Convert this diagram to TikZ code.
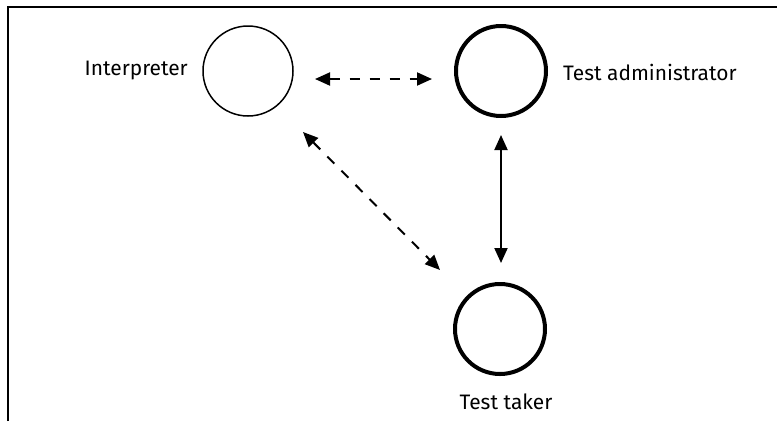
\documentclass[tikz,border=0pt]{standalone}
\usepackage{fontspec}
\setmainfont{Fira Sans}
\usetikzlibrary{arrows.meta}
\begin{document}
\begin{tikzpicture}[x=1bp,y=-1bp,
  actor/.style={circle,draw,minimum size=90bp,inner sep=0pt},
  thinactor/.style={actor,line width=1.5bp},
  thickactor/.style={actor,line width=4bp},
  lbl/.style={font=\fontsize{21}{24}\selectfont,inner sep=0pt},
  link/.style={line width=2bp,{Triangle[length=15bp,width=13bp]}-{Triangle[length=15bp,width=13bp]}},
  dlink/.style={link,dash pattern=on 10bp off 10bp}]
\useasboundingbox (0,0) rectangle (777,421);
\draw[line width=2bp] (8,421) -- (8,7) -- (777,7);
\node[thinactor] (int) at (248,71) {};
\node[thickactor] (adm) at (501,71) {};
\node[thickactor] (tak) at (500,329) {};
\node[lbl,anchor=east] (intl) at (188,71) {Interpreter};
\node[lbl,anchor=west] (adml) at (563,72) {Test administrator};
\node[lbl] (takl) at (506,402) {Test taker};
\coordinate (h1) at (315,79);
\coordinate (h2) at (432,79);
\draw[dlink] (h1) -- (h2);
\coordinate (d1) at (303,132);
\coordinate (d2) at (440,270);
\draw[dlink] (d1) -- (d2);
\coordinate (v1) at (501,135);
\coordinate (v2) at (501,263);
\draw[link] (v1) -- (v2);
\end{tikzpicture}
\end{document}
